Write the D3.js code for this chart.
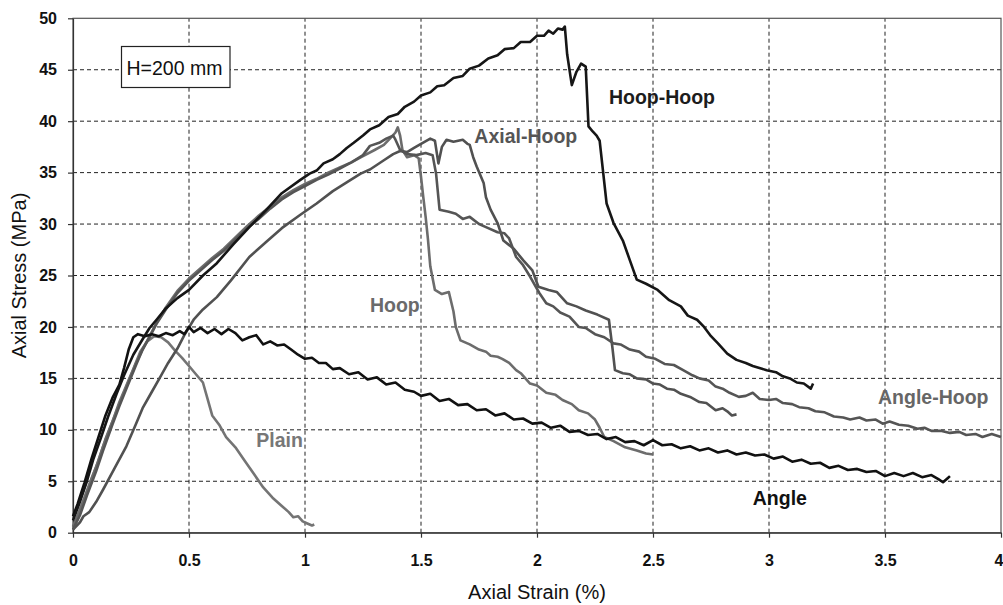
<!DOCTYPE html>
<html>
<head>
<meta charset="utf-8">
<script src="https://cdn.jsdelivr.net/npm/d3@7"></script>
<style>
  body { margin: 0; background: #fff; }
  svg { display: block; font-family: Arial, "Liberation Sans", sans-serif; }
  .grid line { stroke: #222; stroke-width: 1; stroke-dasharray: 4 3; }
  .axis path, .axis line { stroke: #333; stroke-width: 1.2; }
  .axis text { font-size: 16px; font-weight: bold; fill: #111; }
  .axis-label { font-size: 20px; fill: #111; }
  .curve { fill: none; stroke-width: 2.6; stroke-linejoin: round; }
  .note { font-size: 19.5px; font-weight: bold; }
</style>
</head>
<body>
<svg id="plot" width="1003" height="605"></svg>
<script>
const xTicks = [0, 0.5, 1, 1.5, 2, 2.5, 3, 3.5, 4]
const yTicks = [0, 5, 10, 15, 20, 25, 30, 35, 40, 45, 50]

// [axial strain %, axial stress MPa]
const plain = [[0,0.5],[0.02,1.6],[0.05,3.4],[0.08,5.3],[0.11,7.0],[0.14,9.1],[0.17,10.8],[0.2,12.7],[0.23,14.3],[0.26,15.9],[0.29,17.6],[0.32,18.6],[0.35,19.1],[0.38,19.0],[0.41,18.5],[0.44,17.7],[0.47,17.0],[0.5,16.2],[0.53,15.4],[0.56,14.6],[0.58,13.0],[0.6,11.4],[0.63,10.5],[0.66,9.3],[0.7,8.3],[0.74,7.0],[0.78,5.7],[0.82,4.4],[0.86,3.4],[0.9,2.6],[0.93,2.0],[0.95,1.5],[0.97,1.6],[0.99,1.1],[1.01,0.9],[1.03,0.7],[1.04,0.8]]

const angle = [[0,1.6],[0.02,2.8],[0.05,4.9],[0.08,7.2],[0.11,9.3],[0.14,11.4],[0.17,13.1],[0.2,14.4],[0.22,16.0],[0.24,17.8],[0.26,19.0],[0.28,19.3],[0.31,19.1],[0.34,19.3],[0.37,19.1],[0.4,19.4],[0.43,19.2],[0.46,19.6],[0.48,19.3],[0.5,20.0],[0.52,19.5],[0.55,19.9],[0.58,19.4],[0.61,19.8],[0.64,19.3],[0.67,19.8],[0.7,19.4],[0.73,18.7],[0.76,19.0],[0.79,19.2],[0.82,18.3],[0.85,18.6],[0.88,18.2],[0.91,18.3],[0.94,17.8],[0.97,17.3],[1.0,16.9],[1.03,17.0],[1.06,16.5],[1.09,16.5],[1.12,15.9],[1.15,16.0],[1.19,15.4],[1.23,15.6],[1.27,14.9],[1.31,15.1],[1.35,14.4],[1.39,14.6],[1.43,13.9],[1.47,13.7],[1.5,13.3],[1.54,13.5],[1.58,12.8],[1.62,13.0],[1.66,12.4],[1.7,12.5],[1.74,11.9],[1.78,12.0],[1.82,11.4],[1.86,11.6],[1.9,11.0],[1.94,11.1],[1.98,10.6],[2.02,10.7],[2.06,10.2],[2.1,10.4],[2.14,9.8],[2.18,9.9],[2.22,9.5],[2.26,9.6],[2.3,9.1],[2.34,9.3],[2.38,8.8],[2.42,8.9],[2.46,8.5],[2.5,9.0],[2.54,8.5],[2.58,8.6],[2.62,8.2],[2.66,8.4],[2.7,8.0],[2.74,8.2],[2.78,7.8],[2.82,8.0],[2.86,7.6],[2.9,7.8],[2.94,7.5],[2.98,7.6],[3.02,7.2],[3.06,7.4],[3.1,6.9],[3.14,7.1],[3.18,6.7],[3.22,6.8],[3.26,6.3],[3.3,6.5],[3.34,6.1],[3.38,6.2],[3.42,5.9],[3.46,6.0],[3.5,5.5],[3.54,5.8],[3.58,5.5],[3.62,5.8],[3.66,5.4],[3.7,5.6],[3.73,5.2],[3.75,4.9],[3.77,5.3],[3.78,5.5]]

const hoop = [[0,0.6],[0.03,2.2],[0.06,4.0],[0.1,6.4],[0.13,8.4],[0.17,10.8],[0.2,12.5],[0.23,14.2],[0.27,16.4],[0.3,17.8],[0.33,19.1],[0.36,20.4],[0.4,21.9],[0.45,23.5],[0.5,24.7],[0.55,25.7],[0.6,26.7],[0.65,27.6],[0.7,28.7],[0.75,29.8],[0.8,30.8],[0.85,31.7],[0.9,32.6],[0.95,33.3],[1.0,33.9],[1.05,34.4],[1.1,35.0],[1.15,35.5],[1.2,36.0],[1.25,36.6],[1.3,37.2],[1.34,37.7],[1.37,38.4],[1.39,38.9],[1.4,39.4],[1.41,38.6],[1.42,37.2],[1.44,36.5],[1.47,36.7],[1.49,36.4],[1.5,34.6],[1.51,32.6],[1.52,30.7],[1.53,28.5],[1.54,25.9],[1.56,23.6],[1.59,23.2],[1.62,23.4],[1.64,21.5],[1.65,20.0],[1.67,18.7],[1.71,18.3],[1.75,17.8],[1.78,17.6],[1.8,17.2],[1.83,17.1],[1.85,16.9],[1.88,16.5],[1.91,15.8],[1.93,15.5],[1.97,14.5],[2.0,14.3],[2.04,13.6],[2.08,13.4],[2.11,12.9],[2.15,12.5],[2.18,11.9],[2.22,11.6],[2.25,11.0],[2.27,10.2],[2.29,9.3],[2.33,8.9],[2.38,8.3],[2.43,8.0],[2.47,7.7],[2.5,7.6]]

const axialHoop = [[0,0.3],[0.03,1.0],[0.045,1.6],[0.07,2.0],[0.1,3.0],[0.13,4.2],[0.18,6.3],[0.23,8.4],[0.27,10.5],[0.3,12.1],[0.34,13.7],[0.38,15.3],[0.41,16.5],[0.45,17.9],[0.48,19.2],[0.52,20.7],[0.56,21.7],[0.62,22.9],[0.68,24.5],[0.76,26.8],[0.83,28.2],[0.9,29.6],[0.98,30.9],[1.05,32.0],[1.12,33.2],[1.19,34.2],[1.24,34.9],[1.28,35.3],[1.34,36.2],[1.38,36.8],[1.41,37.1],[1.44,37.0],[1.47,37.4],[1.5,37.8],[1.54,38.3],[1.56,38.1],[1.575,35.9],[1.59,37.5],[1.61,38.2],[1.64,38.0],[1.68,38.2],[1.7,37.8],[1.71,37.7],[1.725,36.5],[1.74,35.6],[1.77,34.0],[1.78,32.6],[1.8,31.4],[1.83,30.1],[1.855,28.4],[1.9,27.6],[1.94,26.5],[1.98,25.5],[2.006,23.9],[2.05,23.6],[2.085,23.4],[2.13,22.3],[2.17,22.0],[2.21,21.6],[2.26,21.2],[2.31,20.7],[2.325,18.0],[2.336,15.8],[2.37,15.5],[2.4,15.4],[2.43,15.0],[2.47,14.9],[2.5,14.5],[2.53,14.4],[2.56,14.0],[2.59,13.9],[2.62,13.5],[2.66,13.2],[2.7,12.7],[2.73,12.6],[2.77,11.9],[2.8,12.1],[2.82,11.8],[2.84,11.4],[2.86,11.5]]

const angleHoop = [[0,0.3],[0.03,1.7],[0.06,3.6],[0.1,6.0],[0.13,8.0],[0.17,10.5],[0.2,12.3],[0.23,14.0],[0.27,16.2],[0.3,17.8],[0.33,19.0],[0.36,20.3],[0.4,21.7],[0.45,23.3],[0.5,24.5],[0.55,25.5],[0.6,26.5],[0.65,27.4],[0.7,28.5],[0.75,29.6],[0.8,30.5],[0.85,31.5],[0.9,32.4],[0.95,33.1],[1.0,33.7],[1.05,34.3],[1.1,34.8],[1.15,35.4],[1.2,36.0],[1.25,36.7],[1.28,37.6],[1.32,37.9],[1.35,38.3],[1.38,38.6],[1.39,38.2],[1.41,37.2],[1.44,36.8],[1.48,36.7],[1.52,36.9],[1.55,36.7],[1.565,34.9],[1.58,31.4],[1.62,31.2],[1.65,31.0],[1.68,30.5],[1.71,30.7],[1.75,30.0],[1.78,29.7],[1.83,29.2],[1.86,29.1],[1.88,28.6],[1.91,26.8],[1.94,26.0],[1.97,24.9],[2.01,23.3],[2.04,22.3],[2.07,22.0],[2.1,21.4],[2.14,21.0],[2.18,20.0],[2.21,19.9],[2.25,19.3],[2.29,19.0],[2.33,18.4],[2.36,18.3],[2.4,17.8],[2.44,17.6],[2.47,17.1],[2.51,16.9],[2.55,16.4],[2.59,16.3],[2.63,15.8],[2.67,15.3],[2.7,15.0],[2.74,14.8],[2.77,14.2],[2.8,14.0],[2.83,13.6],[2.87,13.2],[2.9,13.3],[2.93,13.6],[2.96,13.0],[3.0,12.9],[3.03,13.0],[3.06,12.6],[3.1,12.5],[3.13,12.2],[3.17,12.1],[3.2,11.8],[3.24,11.7],[3.28,11.3],[3.32,11.2],[3.35,11.0],[3.39,11.2],[3.42,10.9],[3.46,11.0],[3.49,10.6],[3.52,10.8],[3.56,10.5],[3.6,10.4],[3.64,10.1],[3.67,10.2],[3.7,9.9],[3.74,9.9],[3.78,9.7],[3.82,9.8],[3.85,9.5],[3.89,9.6],[3.92,9.3],[3.96,9.6],[4.0,9.3]]

const hoopHoop = [[0,1.2],[0.03,3.0],[0.06,5.0],[0.087,7.1],[0.12,9.2],[0.15,11.2],[0.188,13.5],[0.22,15.3],[0.26,17.3],[0.3,18.8],[0.33,19.9],[0.36,20.7],[0.4,21.8],[0.45,22.8],[0.5,23.6],[0.56,25.0],[0.62,26.2],[0.69,28.0],[0.76,29.7],[0.83,31.3],[0.9,33.0],[0.98,34.3],[1.02,34.9],[1.05,35.2],[1.08,35.9],[1.12,36.3],[1.15,36.8],[1.18,37.4],[1.21,37.9],[1.25,38.6],[1.28,39.2],[1.32,39.6],[1.36,40.4],[1.4,40.7],[1.43,41.4],[1.47,41.9],[1.5,42.5],[1.54,42.8],[1.57,43.4],[1.6,43.5],[1.64,44.2],[1.68,44.4],[1.71,45.1],[1.75,45.4],[1.79,46.1],[1.83,46.4],[1.86,47.0],[1.9,47.1],[1.93,47.7],[1.97,47.7],[2.0,48.3],[2.03,48.3],[2.05,48.8],[2.07,48.5],[2.09,49.0],[2.11,48.9],[2.12,49.2],[2.13,46.5],[2.15,43.5],[2.17,44.8],[2.19,45.6],[2.21,45.3],[2.222,39.5],[2.24,39.0],[2.257,38.6],[2.27,38.1],[2.3,32.0],[2.33,30.1],[2.37,28.4],[2.4,26.5],[2.43,24.6],[2.47,24.2],[2.52,23.6],[2.57,22.6],[2.62,22.0],[2.65,21.1],[2.69,20.7],[2.72,20.0],[2.75,19.1],[2.78,18.4],[2.82,17.4],[2.86,16.8],[2.9,16.5],[2.93,16.2],[2.99,15.8],[3.03,15.6],[3.06,15.2],[3.09,15.0],[3.12,14.6],[3.15,14.5],[3.18,14.0],[3.19,14.5]]

const seriesData = [plain, hoop, axialHoop, angleHoop, angle, hoopHoop]
const seriesColors = ['#747474', '#6c6c6c', '#515151', '#555555', '#111111', '#161616']
const noteText = ['Plain', 'Hoop', 'Axial-Hoop', 'Angle-Hoop', 'Angle', 'Hoop-Hoop']
const notePos = [[0.79, 8.3], [1.28, 21.5], [1.73, 37.9], [3.47, 12.5], [2.93, 2.7], [2.31, 41.7]]
const noteColors = ['#777', '#6a6a6a', '#555', '#666', '#111', '#1c1c1c']

const plotLeft = 73
    , plotRight = 1001
    , plotTop = 18.3
    , plotBottom = 532.7
    , scaleX = d3.scaleLinear().domain([0, 4]).range([plotLeft, plotRight])
    , scaleY = d3.scaleLinear().domain([0, 50]).range([plotBottom, plotTop])
    , svg = d3.select('#plot')

const drawGrid = svg => {
    const g = svg.append('g').attr('class', 'grid')
    g.selectAll('line.x')
        .data(xTicks.slice(1, -1))
        .join('line')
        .attr('class', 'x')
        .attr('x1', scaleX).attr('x2', scaleX)
        .attr('y1', plotBottom).attr('y2', plotTop)
    g.selectAll('line.y')
        .data(yTicks.slice(1, -1))
        .join('line')
        .attr('class', 'y')
        .attr('x1', plotLeft).attr('x2', plotRight)
        .attr('y1', scaleY).attr('y2', scaleY)
    svg.append('rect')
        .attr('x', plotLeft).attr('y', plotTop)
        .attr('width', plotRight - plotLeft)
        .attr('height', plotBottom - plotTop)
        .attr('fill', 'none')
        .attr('stroke', '#555')
        .attr('stroke-width', 1.2)
    return svg
}

const drawAxes = svg => {
    const bottom = svg.append('g')
        .attr('class', 'axis')
        .attr('transform', `translate(0,${plotBottom})`)
        .call(d3.axisBottom(scaleX).tickValues(xTicks).tickSize(5).tickSizeOuter(0).tickPadding(17).tickFormat(d => d))
    // last label sits on the page edge, keep it inside
    bottom.selectAll('.tick text')
        .filter(d => d === 4)
        .attr('text-anchor', 'end')
        .attr('dx', 2)
    svg.append('g')
        .attr('class', 'axis')
        .attr('transform', `translate(${plotLeft},0)`)
        .call(d3.axisLeft(scaleY).tickValues(yTicks).tickSize(5).tickSizeOuter(0).tickPadding(11).tickFormat(d => d))
    svg.append('text')
        .attr('class', 'axis-label')
        .attr('text-anchor', 'middle')
        .attr('x', (plotLeft + plotRight) / 2)
        .attr('y', 599)
        .text('Axial Strain (%)')
    svg.append('text')
        .attr('class', 'axis-label')
        .attr('text-anchor', 'middle')
        .attr('transform', `translate(26,${(plotTop + plotBottom) / 2}) rotate(-90)`)
        .text('Axial Stress (MPa)')
    return svg
}

const drawCurves = svg => {
    const line = d3.line().x(d => scaleX(d[0])).y(d => scaleY(d[1]))
    svg.append('g')
        .selectAll('path')
        .data(seriesData)
        .join('path')
        .attr('class', 'curve')
        .attr('d', line)
        .attr('stroke', (d, i) => seriesColors[i])
        .attr('stroke-width', (d, i) => i >= 4 ? 2.9 : 2.6)
    return svg
}

const drawNotes = svg => {
    svg.append('g')
        .selectAll('text')
        .data(noteText)
        .join('text')
        .attr('class', 'note')
        .attr('x', (d, i) => scaleX(notePos[i][0]))
        .attr('y', (d, i) => scaleY(notePos[i][1]))
        .attr('fill', (d, i) => noteColors[i])
        .text(d => d)
    // H=200 mm box
    const box = svg.append('g')
    box.append('rect')
        .attr('x', 121.5).attr('y', 46.5)
        .attr('width', 108.5).attr('height', 41)
        .attr('fill', '#fff')
        .attr('stroke', '#222')
        .attr('stroke-width', 1.2)
    box.append('text')
        .attr('x', 126.5).attr('y', 74.5)
        .attr('font-size', 19.5)
        .attr('fill', '#111')
        .text('H=200 mm')
    return svg
}

drawNotes(drawCurves(drawAxes(drawGrid(svg))))
</script>
</body>
</html>
